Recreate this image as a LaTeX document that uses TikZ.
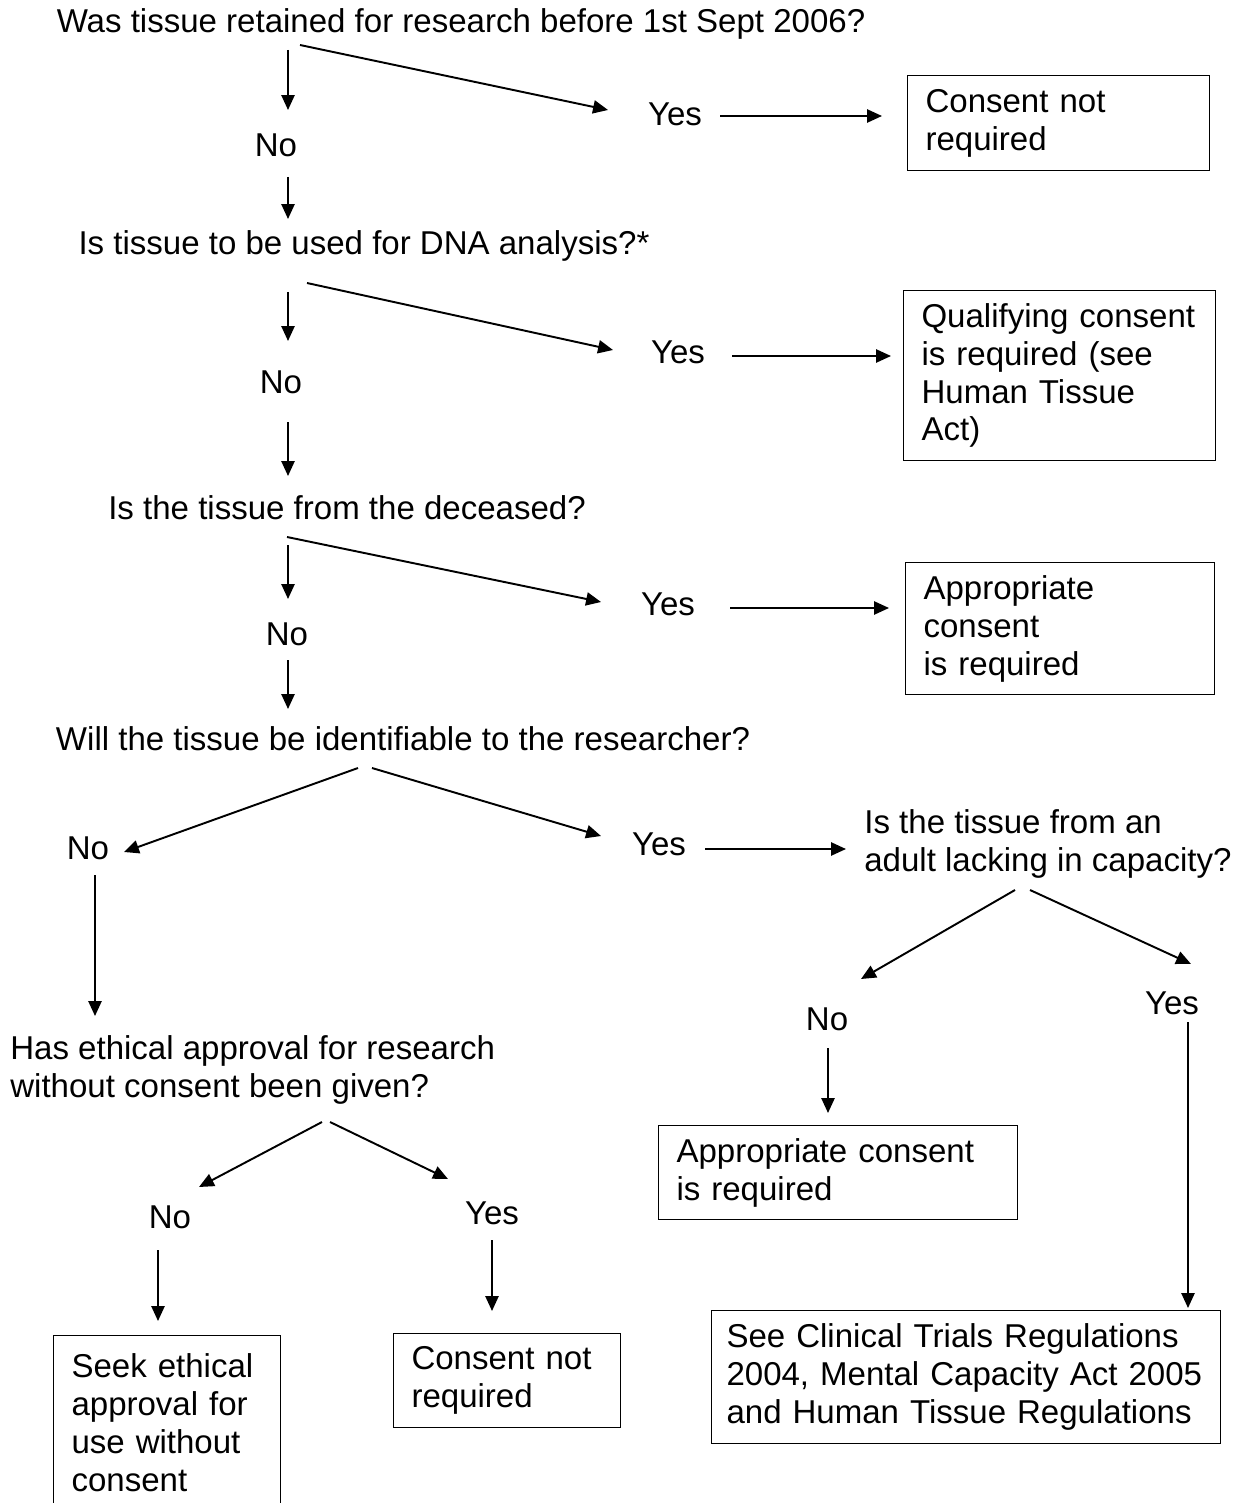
\documentclass[tikz,border=0pt]{standalone}
\usepackage{fontspec}
\setmainfont{Liberation Sans}
\usetikzlibrary{arrows.meta, positioning}

\tikzset{
  txt/.style={inner sep=0pt, align=left},
  box/.style={draw, line width=0.6pt, align=left, anchor=north west, inner xsep=0.36cm, inner ysep=2pt},
  arr/.style={-{Triangle[length=8.5pt, width=7.5pt]}, line width=1.1pt},
}

\begin{document}
\begin{tikzpicture}[x=0.02cm, y=-0.02cm, font=\fontsize{18.8pt}{21.6pt}\selectfont]
    \clip (0,0) rectangle (1251,1503);

    % Retained before 2006
    \node[txt] (q1) at (461,24) {Was tissue retained for research before 1st Sept 2006?};
    \node[txt] (no1) at (276,145) {No};
    \node[txt] (yes1) at (675,114) {Yes};
    \node[box, text width=5.32cm, minimum height=1.9cm] (box1) at (907,75) {Consent not\\required};

    \coordinate (q1-no) at (288,50);
    \coordinate (no1-in) at (288,110);
    \coordinate (q1-yes) at (300,45);
    \coordinate (yes1-in) at (608,110);
    \coordinate (yes1-out) at (720,116);
    \coordinate (box1-in) at (882,116);
    \coordinate (no1-out) at (288,177);
    \coordinate (q2-in) at (288,219);
    \draw[arr] (q1-no) -- (no1-in);
    \draw[arr] (q1-yes) -- (yes1-in);
    \draw[arr] (yes1-out) -- (box1-in);
    \draw[arr] (no1-out) -- (q2-in);

    % DNA analysis
    \node[txt] (q2) at (364,246) {Is tissue to be used for DNA analysis?*};
    \node[txt] (no2) at (281,382) {No};
    \node[txt] (yes2) at (678,352) {Yes};
    \node[box, text width=5.52cm, minimum height=3.4cm] (box2) at (903,290) {Qualifying consent\\is required (see\\Human Tissue\\Act)};

    \coordinate (q2-no) at (288,292);
    \coordinate (no2-in) at (288,341);
    \coordinate (q2-yes) at (307,283);
    \coordinate (yes2-in) at (613,350);
    \coordinate (yes2-out) at (732,356);
    \coordinate (box2-in) at (891,356);
    \coordinate (no2-out) at (288,422);
    \coordinate (q3-in) at (288,476);
    \draw[arr] (q2-no) -- (no2-in);
    \draw[arr] (q2-yes) -- (yes2-in);
    \draw[arr] (yes2-out) -- (box2-in);
    \draw[arr] (no2-out) -- (q3-in);

    % Deceased
    \node[txt] (q3) at (347,508) {Is the tissue from the deceased?};
    \node[txt] (no3) at (287,634) {No};
    \node[txt] (yes3) at (668,604) {Yes};
    \node[box, text width=5.46cm, minimum height=2.64cm] (box3) at (905,562) {Appropriate\\consent\\is required};

    \coordinate (q3-no) at (288,545);
    \coordinate (no3-in) at (288,599);
    \coordinate (q3-yes) at (287,537);
    \coordinate (yes3-in) at (601,602);
    \coordinate (yes3-out) at (730,608);
    \coordinate (box3-in) at (889,608);
    \coordinate (no3-out) at (288,660);
    \coordinate (q4-in) at (288,709);
    \draw[arr] (q3-no) -- (no3-in);
    \draw[arr] (q3-yes) -- (yes3-in);
    \draw[arr] (yes3-out) -- (box3-in);
    \draw[arr] (no3-out) -- (q4-in);

    % Identifiable
    \node[txt] (q4) at (403,739) {Will the tissue be identifiable to the researcher?};
    \node[txt] (no4) at (88,848) {No};
    \node[txt] (yes4) at (659,844) {Yes};
    \node[txt, anchor=west] (q5) at (864,844) {Is the tissue from an\\adult lacking in capacity?};

    \coordinate (q4-no) at (358,768);
    \coordinate (no4-in) at (124,852);
    \coordinate (q4-yes) at (372,768);
    \coordinate (yes4-in) at (601,836);
    \coordinate (yes4-out) at (705,849);
    \coordinate (q5-in) at (846,849);
    \draw[arr] (q4-no) -- (no4-in);
    \draw[arr] (q4-yes) -- (yes4-in);
    \draw[arr] (yes4-out) -- (q5-in);

    % Lacking capacity
    \node[txt] (no5) at (827,1019) {No};
    \node[txt] (yes5) at (1172,1003) {Yes};
    \node[box, text width=6.46cm, minimum height=1.88cm] (box4) at (658,1125) {Appropriate consent\\is required};
    \node[box, inner xsep=0.3cm, text width=9.58cm, minimum height=2.66cm] (box5) at (711,1310) {See Clinical Trials Regulations\\2004, Mental Capacity Act 2005\\and Human Tissue Regulations};

    \coordinate (q5-no) at (1015,890);
    \coordinate (no5-in) at (861,979);
    \coordinate (q5-yes) at (1030,890);
    \coordinate (yes5-in) at (1191,964);
    \coordinate (no5-out) at (828,1048);
    \coordinate (box4-in) at (828,1113);
    \coordinate (yes5-out) at (1188,1022);
    \coordinate (box5-in) at (1188,1308);
    \draw[arr] (q5-no) -- (no5-in);
    \draw[arr] (q5-yes) -- (yes5-in);
    \draw[arr] (no5-out) -- (box4-in);
    \draw[arr] (yes5-out) -- (box5-in);

    % Ethical approval
    \coordinate (no4-out) at (95,875);
    \coordinate (q6-in) at (95,1016);
    \draw[arr] (no4-out) -- (q6-in);

    \node[txt, anchor=west] (q6) at (10,1070) {Has ethical approval for research\\without consent been given?};
    \node[txt] (no6) at (170,1217) {No};
    \node[txt] (yes6) at (492,1213) {Yes};
    \node[box, text width=3.82cm, minimum height=3.5cm] (box6) at (53,1335) {Seek ethical\\approval for\\use without\\consent};
    \node[box, text width=3.82cm, minimum height=1.88cm] (box7) at (393,1333) {Consent not\\required};

    \coordinate (q6-no) at (322,1122);
    \coordinate (no6-in) at (199,1187);
    \coordinate (q6-yes) at (330,1122);
    \coordinate (yes6-in) at (448,1179);
    \coordinate (no6-out) at (158,1250);
    \coordinate (box6-in) at (158,1321);
    \coordinate (yes6-out) at (492,1240);
    \coordinate (box7-in) at (492,1311);
    \draw[arr] (q6-no) -- (no6-in);
    \draw[arr] (q6-yes) -- (yes6-in);
    \draw[arr] (no6-out) -- (box6-in);
    \draw[arr] (yes6-out) -- (box7-in);
\end{tikzpicture}
\end{document}
